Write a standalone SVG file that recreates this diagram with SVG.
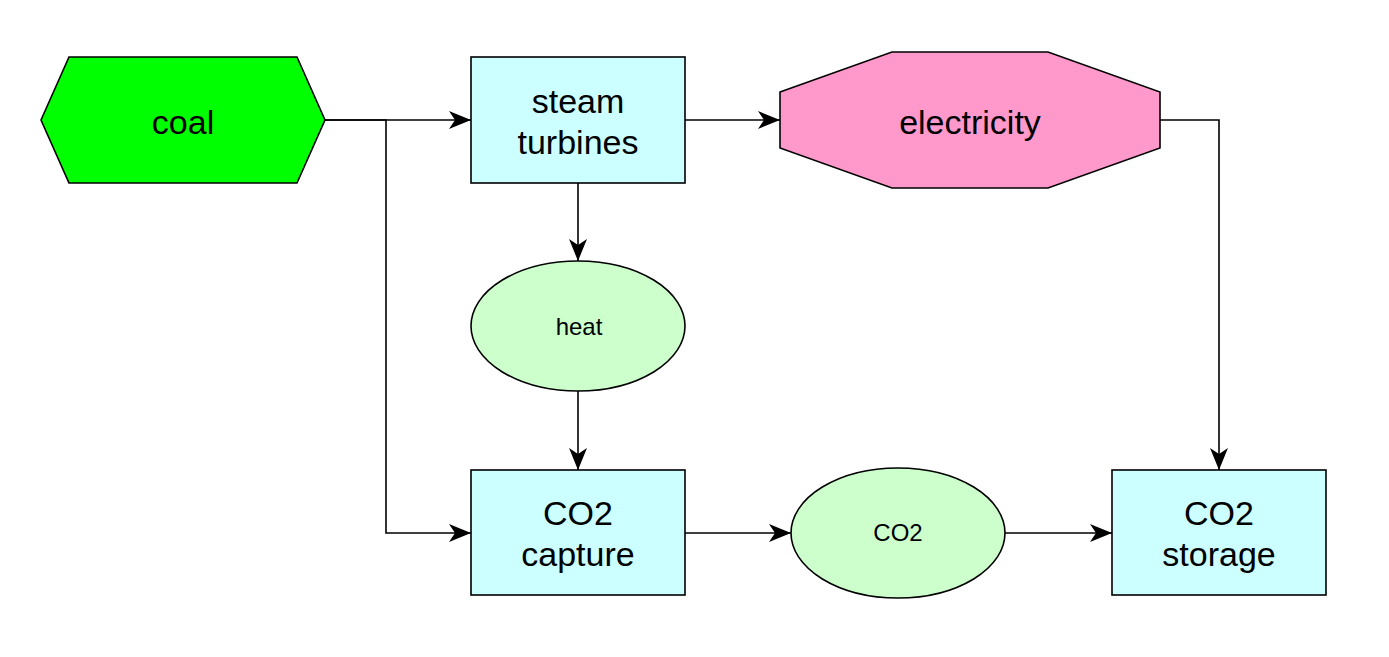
<svg xmlns="http://www.w3.org/2000/svg" width="1389" height="657" viewBox="0 0 1389 657">
<defs>
<style>
.shape{stroke:#000;stroke-width:1.6}
.box{fill:#CCFFFF}
.ell{fill:#CCFFCC}
.big{font-family:"Liberation Sans",Arial,sans-serif;font-size:34px;text-anchor:middle;fill:#000}
.small{font-family:"Liberation Sans",Arial,sans-serif;font-size:24px;text-anchor:middle;fill:#000}
.conn{fill:none;stroke:#000;stroke-width:1.6}
</style>
<marker id="arr" viewBox="0 0 22 18" refX="22" refY="9" markerWidth="22" markerHeight="18" markerUnits="userSpaceOnUse" orient="auto">
<path d="M0,0 L22,9 L0,18 L6,9 Z" fill="#000"/>
</marker>
</defs>
<rect width="1389" height="657" fill="#fff"/>
<g id="connectors">
<path class="conn" d="M325,120 H471" marker-end="url(#arr)"/>
<path class="conn" d="M325,120 H386 V533 H471" marker-end="url(#arr)"/>
<path class="conn" d="M685,120 H780" marker-end="url(#arr)"/>
<path class="conn" d="M578,183 V261" marker-end="url(#arr)"/>
<path class="conn" d="M578,391 V470" marker-end="url(#arr)"/>
<path class="conn" d="M1160,120 H1219 V470" marker-end="url(#arr)"/>
<path class="conn" d="M685,533 H791" marker-end="url(#arr)"/>
<path class="conn" d="M1005,533 H1112" marker-end="url(#arr)"/>
</g>
<g id="coal">
<polygon class="shape" fill="#00FF00" points="41,120 69,57 297,57 325,120 297,183 69,183"/>
<text class="big" x="183" y="134">coal</text>
</g>
<g id="steam-turbines">
<rect class="shape box" x="471" y="57" width="214" height="126"/>
<text class="big" x="578" y="113">steam</text>
<text class="big" x="578" y="154">turbines</text>
</g>
<g id="electricity">
<polygon class="shape" fill="#FF99CC" points="780,92 892,52 1048,52 1160,92 1160,148 1048,188 892,188 780,148"/>
<text class="big" x="970" y="134">electricity</text>
</g>
<g id="heat">
<ellipse class="shape ell" cx="578" cy="326" rx="107" ry="65"/>
<text class="small" x="579" y="335">heat</text>
</g>
<g id="co2-capture">
<rect class="shape box" x="471" y="470" width="214" height="125"/>
<text class="big" x="578" y="525">CO2</text>
<text class="big" x="578" y="566">capture</text>
</g>
<g id="co2">
<ellipse class="shape ell" cx="898" cy="533" rx="107" ry="65"/>
<text class="small" x="898" y="541">CO2</text>
</g>
<g id="co2-storage">
<rect class="shape box" x="1112" y="470" width="214" height="125"/>
<text class="big" x="1219" y="525">CO2</text>
<text class="big" x="1219" y="566">storage</text>
</g>
</svg>
